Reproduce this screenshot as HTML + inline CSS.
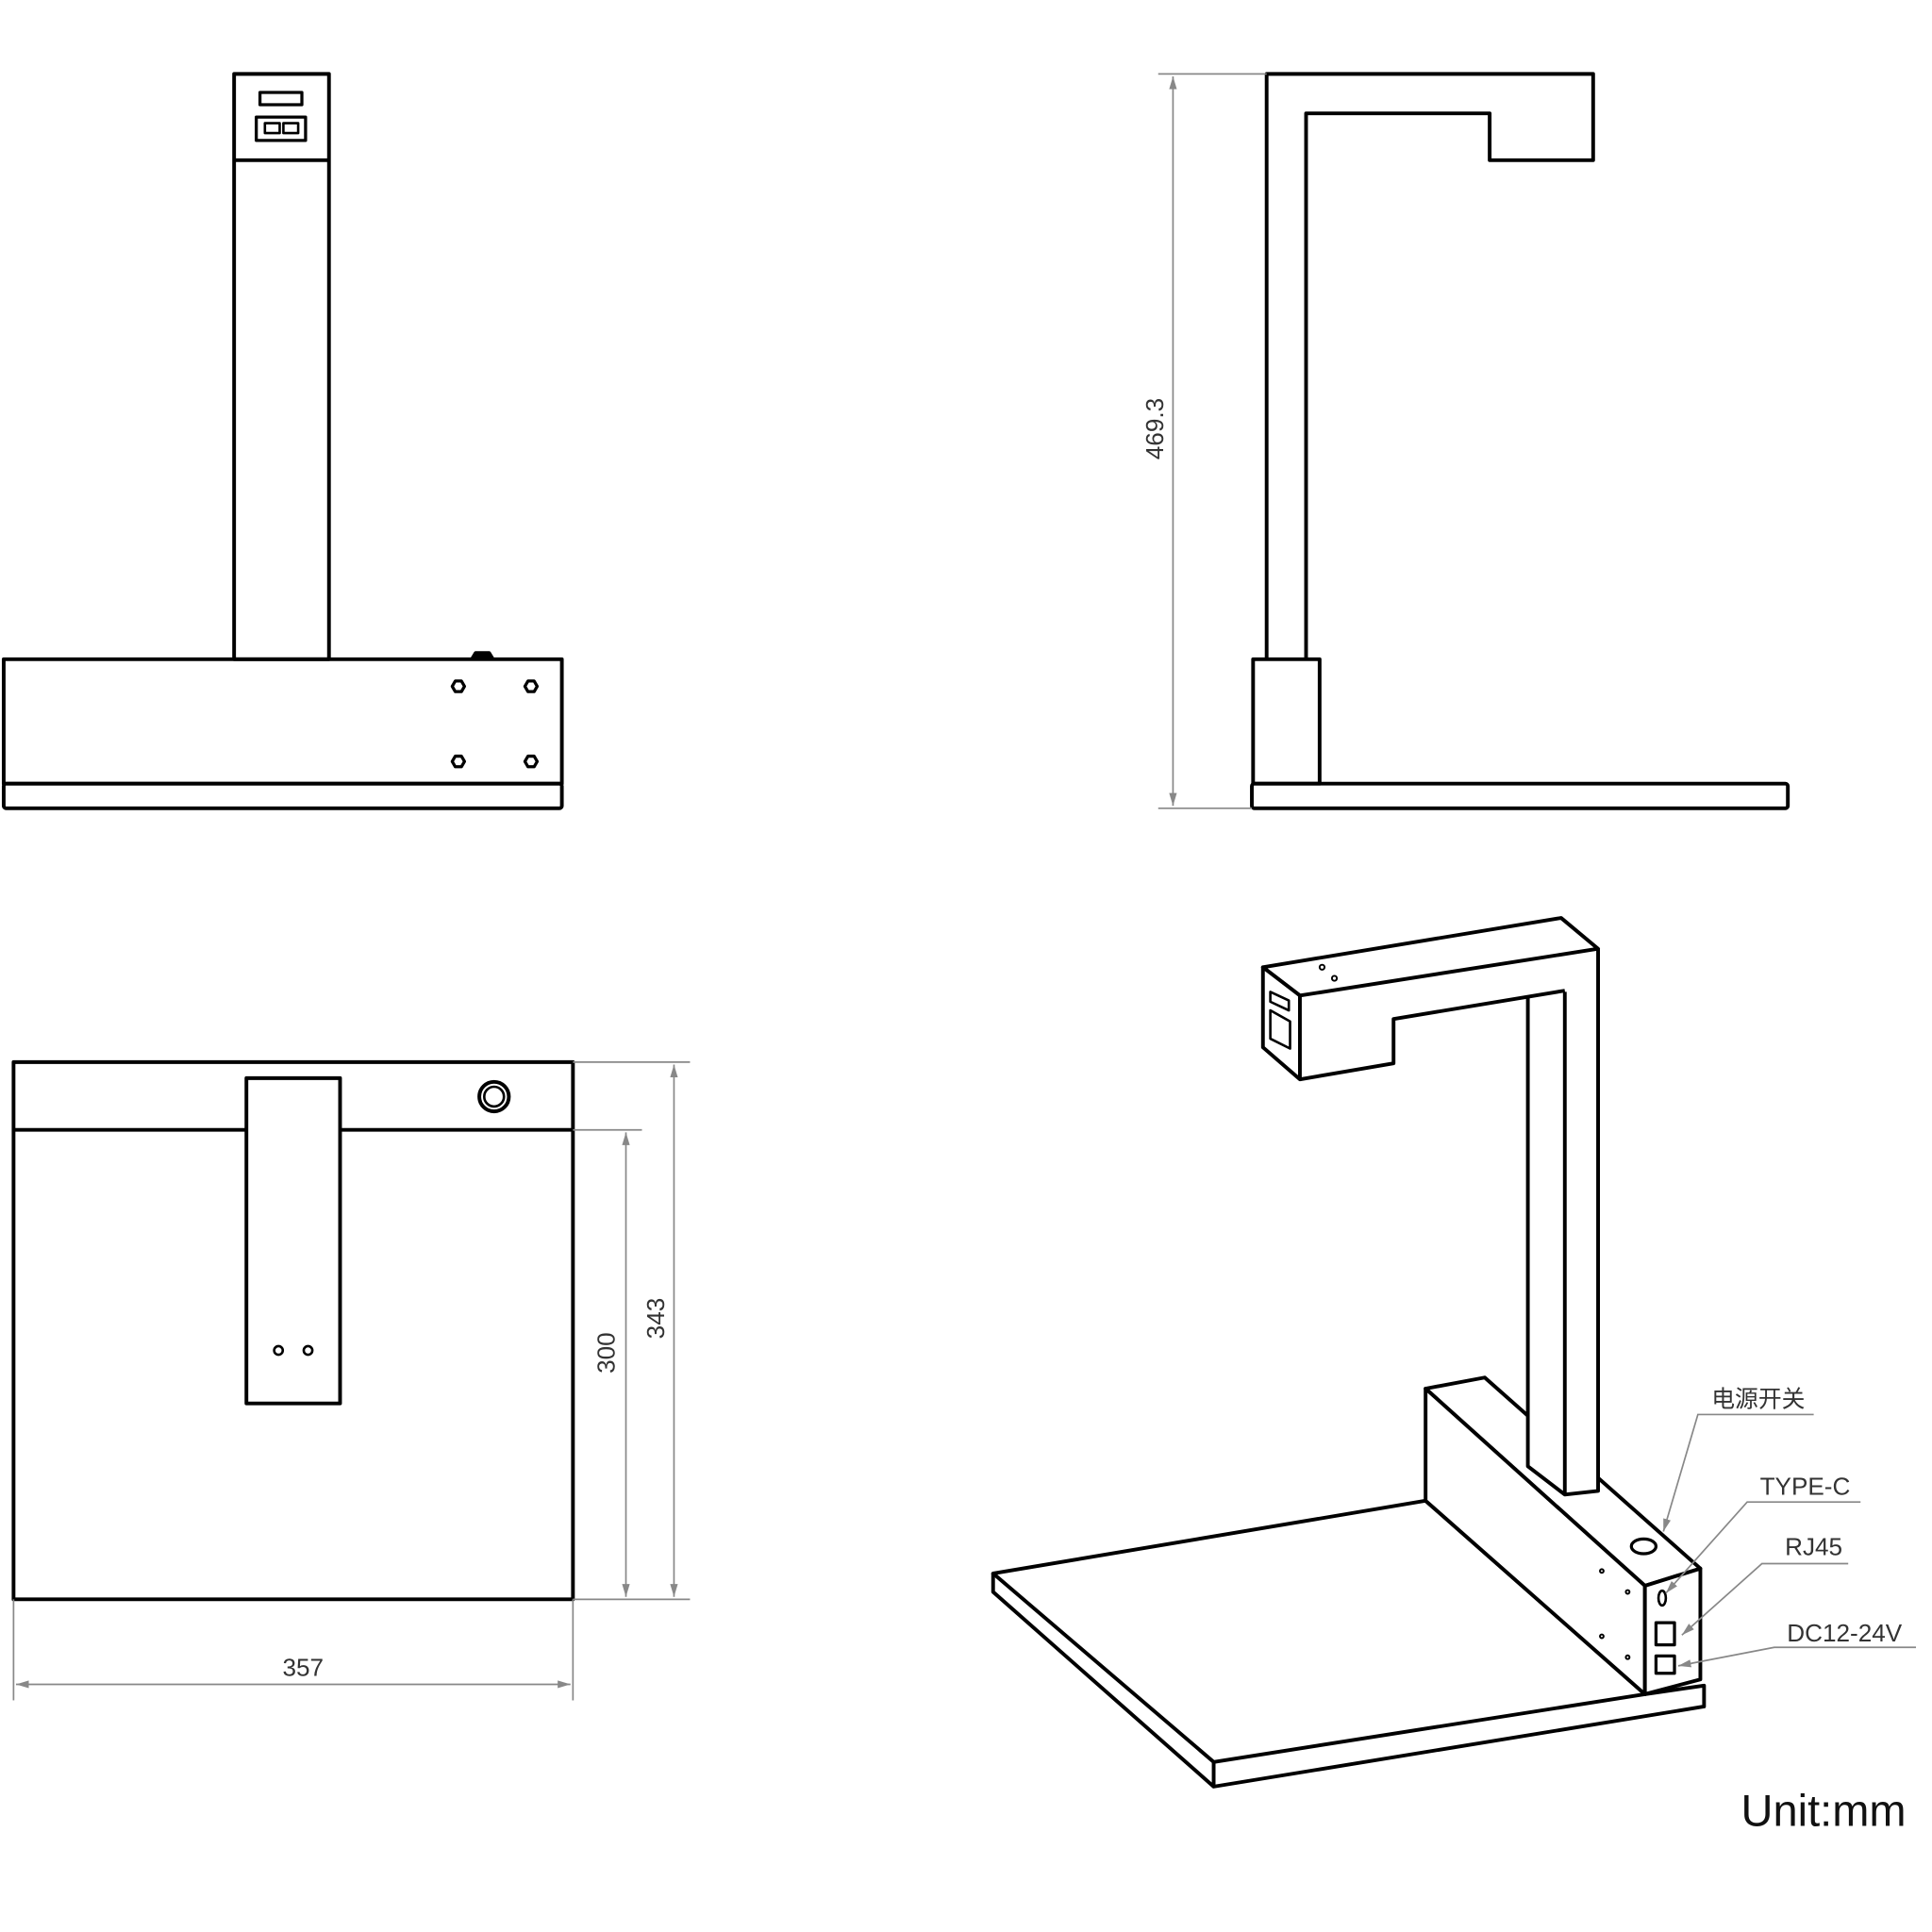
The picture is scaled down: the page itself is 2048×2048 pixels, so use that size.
<!DOCTYPE html>
<html><head><meta charset="utf-8"><style>html,body{margin:0;padding:0;background:#fff}svg{display:block}</style></head>
<body>
<svg width="2048" height="2048" viewBox="0 0 1568 1568" xmlns="http://www.w3.org/2000/svg" font-family="Liberation Sans, Noto Sans CJK SC, sans-serif">
<defs>
<marker id="a" viewBox="0 0 10 10" refX="10" refY="5" markerWidth="8" markerHeight="8" orient="auto-start-reverse"><path d="M0,2 L10,5 L0,8" fill="#888"/></marker>
</defs>
<g fill="none" stroke="#000" stroke-width="3" stroke-linejoin="round">
<rect x="190" y="60" width="77" height="475"/>
<line x1="190" y1="130" x2="267" y2="130"/>
<rect x="211" y="75" width="34" height="10" stroke-width="2.5"/>
<rect x="208" y="95" width="40" height="19" stroke-width="2.5"/>
<rect x="215" y="100" width="12" height="8" stroke-width="2"/>
<rect x="230" y="100" width="12" height="8" stroke-width="2"/>
<rect x="3" y="535" width="453" height="101"/>
<rect x="3" y="636" width="453" height="20" rx="2"/>
<path d="M383,535 L386,530 L397,530 L400,535" fill="#000"/>
<g stroke-width="2.5">
<polygon points="367,557 369.5,552.7 374.5,552.7 377,557 374.5,561.3 369.5,561.3"/>
<polygon points="426,557 428.5,552.7 433.5,552.7 436,557 433.5,561.3 428.5,561.3"/>
<polygon points="367,618 369.5,613.7 374.5,613.7 377,618 374.5,622.3 369.5,622.3"/>
<polygon points="426,618 428.5,613.7 433.5,613.7 436,618 433.5,622.3 428.5,622.3"/>
</g>
<polyline points="1028,535 1028,60 1293,60 1293,130 1209,130 1209,92 1060,92 1060,535"/>
<rect x="1017" y="535" width="54" height="101"/>
<rect x="1016" y="636" width="435" height="20" rx="2"/>
<rect x="11" y="862" width="454" height="436"/>
<line x1="11" y1="917" x2="465" y2="917"/>
<rect x="200" y="875" width="76" height="264" fill="#fff"/>
<circle cx="401" cy="890" r="12"/>
<circle cx="401" cy="890" r="8" stroke-width="2"/>
<circle cx="226" cy="1096" r="3.5" stroke-width="2"/>
<circle cx="250" cy="1096" r="3.5" stroke-width="2"/>
<!-- isometric -->
<polygon points="806,1277 1157,1218 1335,1375 985,1430" fill="#fff"/>
<polyline points="806,1277 806,1292 985,1450 1383,1385 1383,1368 1335,1375"/>
<line x1="985" y1="1430" x2="985" y2="1450"/>
<polygon points="1157,1127 1205,1118 1380,1273 1335,1287" fill="#fff"/>
<polygon points="1157,1127 1335,1287 1335,1375 1157,1218" fill="#fff"/>
<polygon points="1335,1287 1380,1273 1380,1363 1335,1375" fill="#fff"/>
<path d="M1240,808 L1297,770 L1297,1210 L1270,1213 L1240,1190 Z" fill="#fff" stroke="none"/>
<polyline points="1240,810 1240,1190 1270,1213 1297,1210 1297,770"/>
<line x1="1270" y1="805" x2="1270" y2="1213"/>
<polygon points="1025,785 1267,745 1297,770 1055,808" fill="#fff"/>
<polygon points="1025,785 1055,808 1055,876 1025,850" fill="#fff"/>
<polyline points="1055,876 1131,863 1131,827 1270,804"/>
<polygon points="1031,805 1046,812 1046,820 1031,813" stroke-width="2"/>
<polygon points="1031,820 1047,829 1047,851 1031,843" stroke-width="2"/>
<ellipse cx="1334" cy="1255" rx="10" ry="6" stroke-width="2.5"/>
<rect x="1344" y="1317" width="15" height="18" stroke-width="2.5"/>
<rect x="1344" y="1344" width="15" height="14" stroke-width="2.5"/>
<ellipse cx="1349" cy="1297" rx="3" ry="6" stroke-width="2"/>
</g>
<g fill="none" stroke="#000" stroke-width="1.5">
<circle cx="1073" cy="785" r="2"/><circle cx="1083" cy="794" r="2"/>
<circle cx="1300" cy="1275" r="1.5"/><circle cx="1321" cy="1292" r="1.5"/>
<circle cx="1300" cy="1328" r="1.5"/><circle cx="1321" cy="1345" r="1.5"/>
</g>
<g stroke="#888" stroke-width="1.3" fill="none">
<line x1="940" y1="60" x2="1028" y2="60"/><line x1="940" y1="656" x2="1016" y2="656"/>
<line x1="952" y1="62" x2="952" y2="654" marker-start="url(#a)" marker-end="url(#a)"/>
<line x1="465" y1="862" x2="560" y2="862"/><line x1="465" y1="1298" x2="560" y2="1298"/>
<line x1="465" y1="917" x2="521" y2="917"/>
<line x1="547" y1="864" x2="547" y2="1296" marker-start="url(#a)" marker-end="url(#a)"/>
<line x1="508" y1="919" x2="508" y2="1296" marker-start="url(#a)" marker-end="url(#a)"/>
<line x1="11" y1="1298" x2="11" y2="1380"/><line x1="465" y1="1298" x2="465" y2="1380"/>
<line x1="13" y1="1367" x2="463" y2="1367" marker-start="url(#a)" marker-end="url(#a)"/>
<polyline points="1472,1148 1378,1148 1350,1243" marker-end="url(#a)"/>
<polyline points="1510,1219 1418,1219 1352,1293" marker-end="url(#a)"/>
<polyline points="1500,1269 1430,1269 1365,1327" marker-end="url(#a)"/>
<polyline points="1555,1337 1440,1337 1362,1352" marker-end="url(#a)"/>
</g>
<g fill="#333" font-size="20">
<text x="944" y="348" text-anchor="middle" transform="rotate(-90 944 348)">469.3</text>
<text x="539" y="1070" text-anchor="middle" transform="rotate(-90 539 1070)">343</text>
<text x="499" y="1098" text-anchor="middle" transform="rotate(-90 499 1098)">300</text>
<text x="246" y="1360" text-anchor="middle">357</text>
<text x="1427" y="1142" text-anchor="middle" font-size="19">电源开关</text>
<text x="1465" y="1213" text-anchor="middle">TYPE-C</text>
<text x="1472" y="1262" text-anchor="middle">RJ45</text>
<text x="1497" y="1332" text-anchor="middle">DC12-24V</text>
<text x="1480" y="1482" text-anchor="middle" font-size="36" fill="#111">Unit:mm</text>
</g>
</svg>
</body></html>
